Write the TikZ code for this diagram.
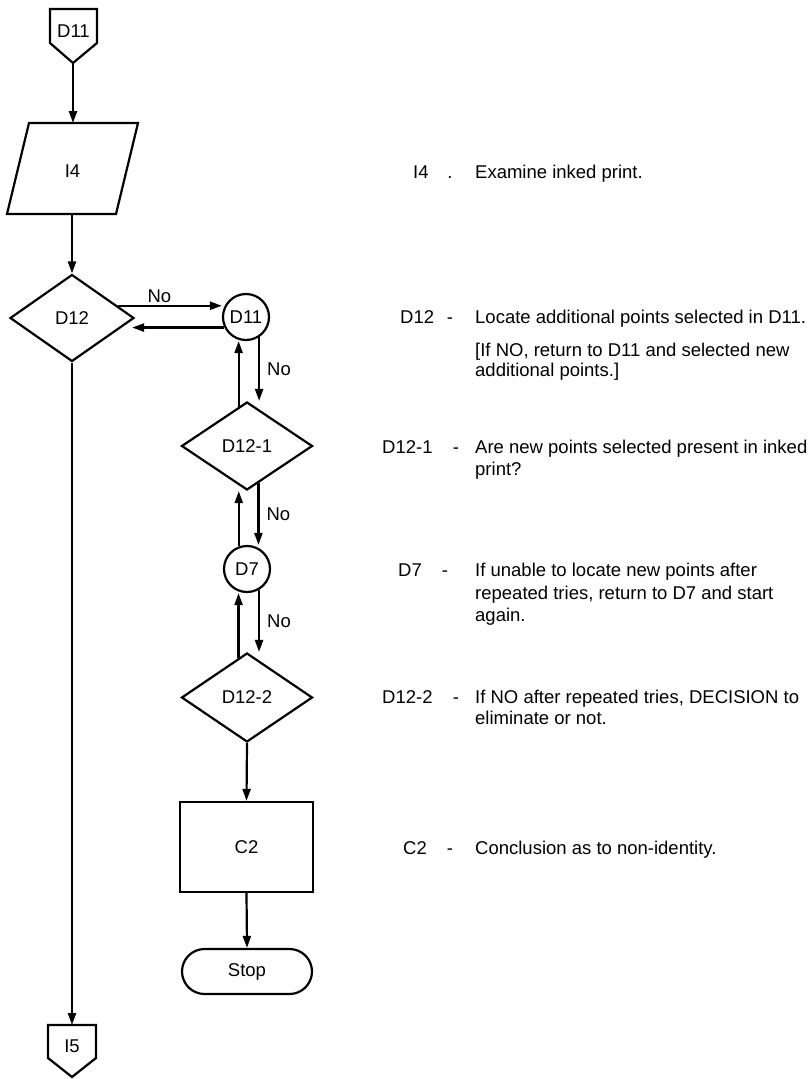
\documentclass[tikz,border=0pt]{standalone}
\usepackage{fontspec}
\setmainfont{Liberation Sans}
\usetikzlibrary{shapes.geometric,shapes.misc,arrows.meta,calc}
\begin{document}
\begin{tikzpicture}[x=1pt,y=-1pt,
  every node/.style={inner sep=0pt, font=\fontsize{18.5}{22}\selectfont},
  outline/.style={draw, line width=2.2pt, line join=miter},
  dia/.style={outline, diamond},
  circ/.style={outline, circle, minimum size=46pt},
  arr/.style={line width=2.2pt, -{Triangle[length=12pt,width=8pt]}},
  desc/.style={anchor=base west, font=\fontsize{18.5}{22}\selectfont},
  sepmark/.style={anchor=base, font=\fontsize{18.5}{22}\selectfont},
  nolbl/.style={font=\fontsize{18.5}{22}\selectfont}
]
\useasboundingbox (0,0) rectangle (811,1079);

% off-page connector D11
\coordinate (d11tip) at (73,63);
\draw[outline] (50,9) -- (97,9) -- (97,43) -- (d11tip) -- (50,43) -- cycle;
\node (d11top) at (73.5,31) {D11};

% I4 parallelogram
\draw[outline] (29,123) -- (138,123) -- (116,214) -- (7,214) -- cycle;
\coordinate (i4top) at (73,123);
\coordinate (i4bot) at (72,214);
\node (i4) at (72.5,171) {I4};

% main nodes
\node[dia, minimum width=124pt, minimum height=87pt] (d12) at (72,318) {D12};
\node[circ] (d11c) at (246,317) {D11};
\node[dia, minimum width=131pt, minimum height=88pt] (d121) at (247,446) {D12-1};
\node[circ] (d7) at (247,569) {D7};
\node[dia, minimum width=131pt, minimum height=89pt] (d122) at (247,697.5) {D12-2};
\node[outline, rectangle, minimum width=133pt, minimum height=90pt] (c2) at (246.5,847) {C2};
\node[outline, rounded rectangle, minimum width=130pt, minimum height=45pt] (stop) at (247,971.5) {Stop};

% off-page connector I5
\coordinate (i5top) at (72,1025);
\coordinate (i5tip) at (72,1077);
\draw[outline] (48,1025) -- (96,1025) -- (96,1058) -- (i5tip) -- (48,1058) -- cycle;
\node (i5) at (72,1046) {I5};

% connectors
\draw[arr] (d11tip) -- (i4top);
\draw[arr] (i4bot) -- (d12.north);
\draw[arr] (d12.15) -- (d12.15 -| d11c.west) node[pos=0.4, above=2pt, nolbl] (no1) {No};
\draw[arr] (d11c.-154) -- ($(d11c.-154 -| d12.east)+(-3,0)$);
\draw[arr] (d121.102) -- (d121.102 |- d11c.south);
\draw[arr] (d11c.-57) -- (d11c.-57 |- d121.north) node[midway, right=7pt, nolbl] (no2) {No};
\draw[arr] (d7.110) -- (d7.110 |- d121.south);
\draw[arr] (d121.-73) -- (d121.-73 |- d7.north) node[midway, right=7pt, nolbl] (no3) {No};
\draw[arr] (d122.102) -- (d122.102 |- d7.south);
\draw[arr] (d7.-60) -- (d7.-60 |- d122.north) node[midway, right=7pt, nolbl] (no4) {No};
\draw[arr] (d122.south) -- (c2.north);
\draw[arr] (c2.south) -- (stop.north);
\draw[arr] (d12.south) -- (i5top);

% descriptions
\node[desc] (ci4) at (413,178) {I4};
\node[sepmark] (si4) at (450,178) {.};
\node[desc] (ti4) at (475,178) {Examine inked print.};

\node[desc] (cd12) at (400,323.5) {D12};
\node[sepmark] (sd12) at (450,323.5) {-};
\node[desc] (td12a) at (475,323.5) {Locate additional points selected in D11.};
\node[desc] (td12b) at (475,356.5) {[If NO, return to D11 and selected new};
\node[desc] (td12c) at (475,376) {additional points.]};

\node[desc] (cd121) at (382,453.5) {D12-1};
\node[sepmark] (sd121) at (456,453.5) {-};
\node[desc] (td121a) at (475,453.5) {Are new points selected present in inked};
\node[desc] (td121b) at (475,475) {print?};

\node[desc] (cd7) at (398,576.5) {D7};
\node[sepmark] (sd7) at (445,576.5) {-};
\node[desc] (td7a) at (475,576.5) {If unable to locate new points after};
\node[desc] (td7b) at (475,599) {repeated tries, return to D7 and start};
\node[desc] (td7c) at (475,621) {again.};

\node[desc] (cd122) at (382,703.5) {D12-2};
\node[sepmark] (sd122) at (456,703.5) {-};
\node[desc] (td122a) at (475,703.5) {If NO after repeated tries, DECISION to};
\node[desc] (td122b) at (475,724.5) {eliminate or not.};

\node[desc] (cc2) at (403,854.5) {C2};
\node[sepmark] (sc2) at (450,854.5) {-};
\node[desc] (tc2) at (475,854.5) {Conclusion as to non-identity.};
\end{tikzpicture}
\end{document}
